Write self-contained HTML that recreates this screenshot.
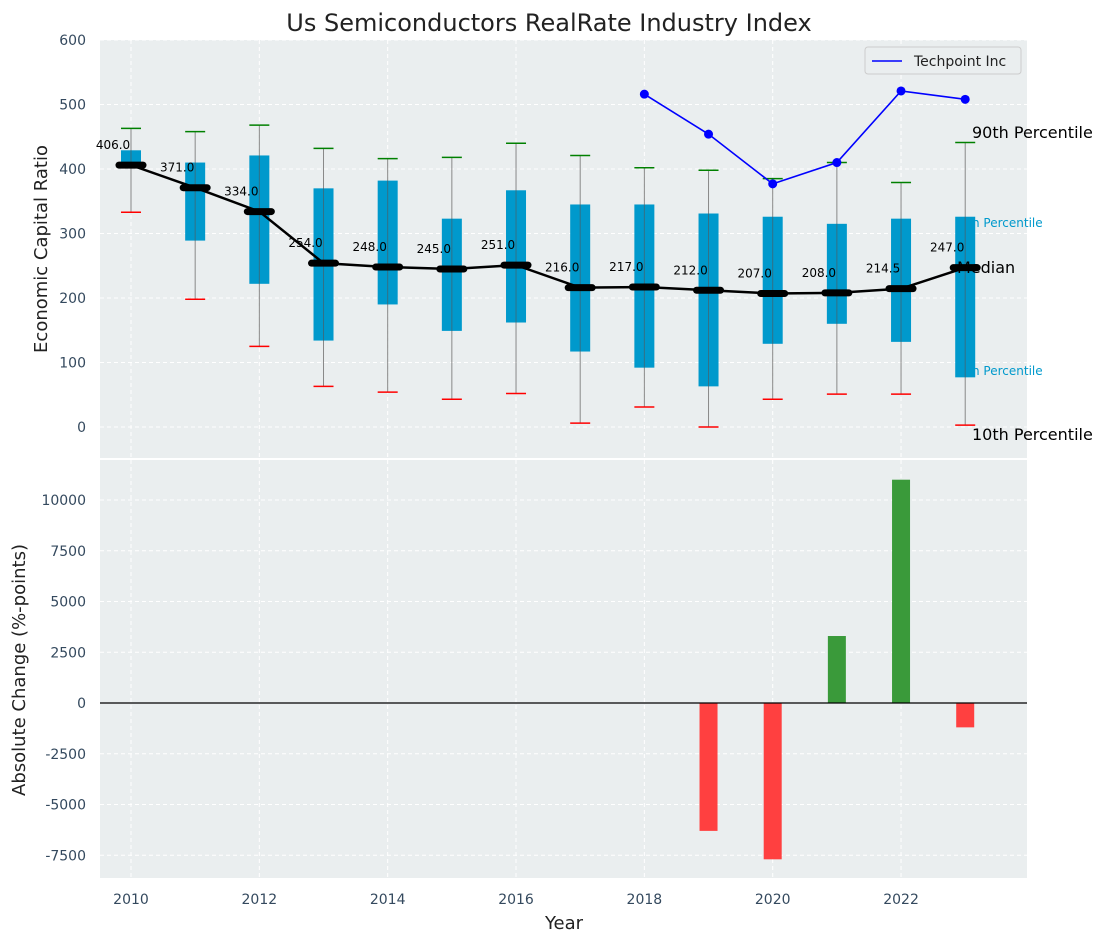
<!DOCTYPE html>
<html><head><meta charset="utf-8"><style>
body{margin:0;background:#fff;font-family:"Liberation Sans","DejaVu Sans",sans-serif}
</style></head><body>
<svg id="c" width="1107" height="942" xmlns="http://www.w3.org/2000/svg" font-family="DejaVu Sans, Liberation Sans, sans-serif"></svg>
<script>
const years=[2010,2011,2012,2013,2014,2015,2016,2017,2018,2019,2020,2021,2022,2023];
const lows=[333,198,125,63,54,43,52,6,31,0,43,51,51,3];
const q1s=[404,289,222,134,190,149,162,117,92,63,129,160,132,77];
const q3s=[429,410,421,370,382,323,367,345,345,331,326,315,323,326];
const highs=[463,458,468,432,416,418,440,421,402,398,385,410,379,441];
const medians=[406,371,334,254,248,245,251,216,217,212,207,208,214.5,247];
const techYears=[2018,2019,2020,2021,2022,2023];
const techVals=[516,454,377,410,521,508];
const changeYears=[2019,2020,2021,2022,2023];
const changeVals=[-6300,-7700,3300,11000,-1200];
const topTicks=[0,100,200,300,400,500,600];
const botTicks=[-7500,-5000,-2500,0,2500,5000,7500,10000];
const xTicks=[2010,2012,2014,2016,2018,2020,2022];

const NS="http://www.w3.org/2000/svg",svg=document.getElementById('c');
function mk(t,a,p){const e=document.createElementNS(NS,t);for(const k in a)e.setAttribute(k,a[k]);(p||svg).appendChild(e);return e;}
const L=100,R=1027,T1=40,B1=458,T2=460,B2=878;
const X=v=>131+(v-2010)*64.17;
const Y1=v=>427-v*0.645;
const Y2=v=>703-v*0.0203;
const TC='#34495e';
let e=mk('rect',{x:L,y:T1,width:R-L,height:B1-T1,fill:'#eaeeef'});

e=mk('rect',{x:L,y:T2,width:R-L,height:B2-T2,fill:'#eaeeef'});

const gs={stroke:'#fff','stroke-dasharray':'4,3','stroke-width':1};
xTicks.forEach(v=>{mk('line',Object.assign({x1:X(v),x2:X(v),y1:T1,y2:B1},gs));mk('line',Object.assign({x1:X(v),x2:X(v),y1:T2,y2:B2},gs));
 e=mk('text',{x:X(v),y:904,'text-anchor':'middle','font-size':14,fill:TC});e.textContent=v;
 });
topTicks.forEach(v=>{mk('line',Object.assign({x1:L,x2:R,y1:Y1(v),y2:Y1(v)},gs));
 e=mk('text',{x:L-14,y:Y1(v)+5,'text-anchor':'end','font-size':14,fill:TC});e.textContent=v;
 });
botTicks.forEach(v=>{mk('line',Object.assign({x1:L,x2:R,y1:Y2(v),y2:Y2(v)},gs));
 e=mk('text',{x:L-14,y:Y2(v)+5,'text-anchor':'end','font-size':14,fill:TC});e.textContent=v;
 });
years.forEach((y,i)=>{const x=X(y);
 e=mk('line',{x1:x,x2:x,y1:Y1(highs[i]),y2:Y1(lows[i]),stroke:'#888','stroke-width':1});
 
 e=mk('rect',{x:x-10,y:Y1(q3s[i]),width:20,height:Y1(q1s[i])-Y1(q3s[i]),fill:'#0099cc'});
 
 mk('line',{x1:x,x2:x,y1:Y1(q3s[i]),y2:Y1(q1s[i]),stroke:'#555','stroke-width':1,'stroke-opacity':0.6});
 e=mk('line',{x1:x-10,x2:x+10,y1:Y1(highs[i]),y2:Y1(highs[i]),stroke:'green','stroke-width':1.5});
 
 e=mk('line',{x1:x-10,x2:x+10,y1:Y1(lows[i]),y2:Y1(lows[i]),stroke:'red','stroke-width':1.5});
 
});
e=mk('polyline',{points:years.map((y,i)=>X(y)+','+Y1(medians[i])).join(' '),fill:'none',stroke:'#000','stroke-width':2.5});

years.forEach((y,i)=>{const x=X(y);
 e=mk('line',{x1:x-12,x2:x+12,y1:Y1(medians[i]),y2:Y1(medians[i]),stroke:'#000','stroke-width':7,'stroke-linecap':'round'});
 
 e=mk('text',{x:x-18,y:Y1(medians[i])-16,'text-anchor':'middle','font-size':12,fill:'#000'});e.textContent=medians[i].toFixed(1);
 
});
e=mk('polyline',{points:techYears.map((y,i)=>X(y)+','+Y1(techVals[i])).join(' '),fill:'none',stroke:'blue','stroke-width':1.6});

techYears.forEach((y,i)=>{e=mk('circle',{cx:X(y),cy:Y1(techVals[i]),r:4.5,fill:'blue'});
 });
[['90th Percentile',972,138,16,'#000'],['h Percentile',972,227,12,'#0099cc'],['Median',957,273,16,'#000'],['h Percentile',972,375,12,'#0099cc'],['10th Percentile',972,440,16,'#000']].forEach(a=>{
 e=mk('text',{x:a[1],y:a[2],'font-size':a[3],fill:a[4]});e.textContent=a[0];
 });
changeYears.forEach((y,i)=>{const v=changeVals[i];
 e=mk('rect',{x:X(y)-9,y:Math.min(Y2(v),Y2(0)),width:18,height:Math.abs(Y2(v)-Y2(0)),fill:v>=0?'#3a9a3a':'#ff4040'});
 });
mk('line',{x1:L,x2:R,y1:Y2(0),y2:Y2(0),stroke:'#000','stroke-width':1.2});
e=mk('g',{});
mk('rect',{x:865,y:47,width:156,height:27,rx:3,fill:'#eaeeef',stroke:'#ccc'},e);
mk('line',{x1:872,x2:902,y1:61,y2:61,stroke:'blue','stroke-width':1.6},e);
let t=mk('text',{x:914,y:66,'font-size':14,fill:'#222'},e);t.textContent='Techpoint Inc';
e=mk('text',{x:549,y:31,'text-anchor':'middle','font-size':24,fill:'#222'});e.textContent='Us Semiconductors RealRate Industry Index';

e=mk('text',{x:564,y:929,'text-anchor':'middle','font-size':18,fill:'#222'});e.textContent='Year';

e=mk('text',{x:0,y:0,'text-anchor':'middle','font-size':18,fill:'#222',transform:'translate(47,249) rotate(-90)'});e.textContent='Economic Capital Ratio';

e=mk('text',{x:0,y:0,'text-anchor':'middle','font-size':18,fill:'#222',transform:'translate(25,670) rotate(-90)'});e.textContent='Absolute Change (%-points)';

</script>
</body></html>
